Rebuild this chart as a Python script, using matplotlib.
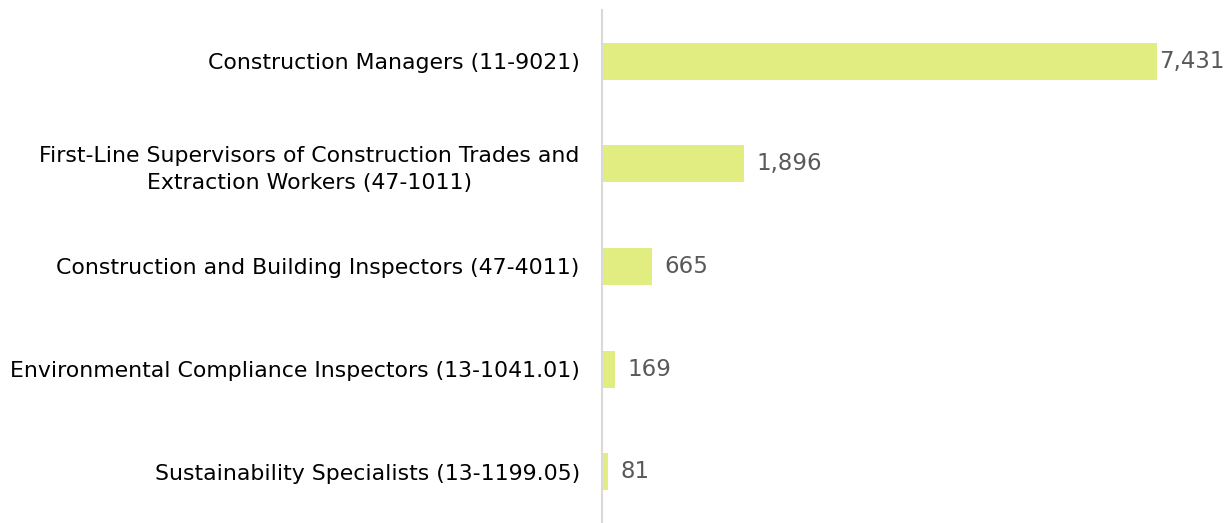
import matplotlib.pyplot as plt
from matplotlib.ticker import NullLocator

categories = [
    'Construction Managers (11-9021)',
    'First-Line Supervisors of Construction Trades and\nExtraction Workers (47-1011)',
    'Construction and Building Inspectors (47-4011)',
    'Environmental Compliance Inspectors (13-1041.01)',
    'Sustainability Specialists (13-1199.05)',
]
values = [7431, 1896, 665, 169, 81]

BAR_COLOR = '#e1ed80'
LABEL_GRAY = '#595959'
AXIS_GRAY = '#d9d9d9'

plt.rcParams['font.family'] = ['DejaVu Sans']

fig = plt.figure(figsize=(12.29, 5.23), dpi=100)
ax = fig.add_axes([602 / 1229, 0.0, 598 / 1229, 1 - 10 / 523])

y = list(range(len(categories)))
ax.barh(y, values, height=0.36, color=BAR_COLOR)
ax.set_ylim(len(categories) - 0.5, -0.5)
ax.set_xlim(0, 8000)

ax.set_yticks(y)
ax.set_yticklabels(categories, fontsize=15.8, color='black', ha='right',
                   multialignment='center', linespacing=1.45)
ax.tick_params(axis='y', length=0, pad=16)
ax.xaxis.set_major_locator(NullLocator())

for s in ['top', 'right', 'bottom']:
    ax.spines[s].set_visible(False)
ax.spines['left'].set_color(AXIS_GRAY)
ax.spines['left'].set_linewidth(1.5)

# value labels, the longest one is squeezed against the plot edge
for yi, v in zip(y, values):
    pad = 1 if v == max(values) else 9
    ax.annotate(f'{v:,}', xy=(v, yi), xytext=(pad, 0), textcoords='offset points',
                ha='left', va='center', fontsize=16.5, color=LABEL_GRAY)

fig.savefig('out.png', dpi=100)
